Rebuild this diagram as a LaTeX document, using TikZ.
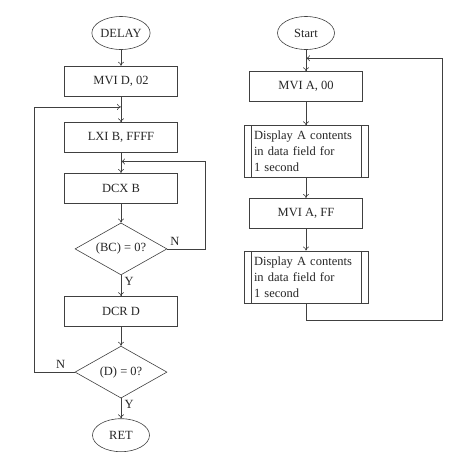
\documentclass[tikz,border=0pt]{standalone}
\usepackage{fontspec}
\setmainfont{Liberation Serif}
\usepackage{tikz}
\usetikzlibrary{arrows.meta,positioning,shapes.geometric}

\begin{document}
\begin{tikzpicture}[
				x=1pt, y=1pt, line width=0.6pt,
				font=\fontsize{12.5}{16}\selectfont,
				every node/.style={text=black!85},
				term/.style={ellipse, draw=black!75, inner sep=0pt,
					minimum width=57pt, minimum height=33pt},
				block/.style={rectangle, draw=black!75, align=center,
					minimum width=113pt, minimum height=30pt},
				decision/.style={diamond, draw=black!75, aspect=1.7, inner sep=1pt,
					minimum width=92pt, minimum height=52pt},
				predef/.style={rectangle, draw=black!75, align=left, inner sep=0pt,
					text width=104pt, minimum width=124pt, minimum height=52pt,
					path picture={
						\draw[black!75] ([xshift=7pt]path picture bounding box.north west)
							-- ([xshift=7pt]path picture bounding box.south west);
						\draw[black!75] ([xshift=-7pt]path picture bounding box.north east)
							-- ([xshift=-7pt]path picture bounding box.south east);
					}},
				arrow/.style={draw=black!75, -{To[length=4pt,width=6pt]}}
				]
				\useasboundingbox (0,0) rectangle (452,-458);
				
				% delay routine
				\node[term] (delay) at (121,-33) {DELAY};
				\node[block, below=16pt of delay] (mvid) {MVI D, 02};
				\node[block, below=26pt of mvid] (lxi) {LXI B, FFFF};
				\node[block, below=20pt of lxi] (dcx) {DCX B};
				\node[decision, below=19pt of dcx] (bc) {(BC) = 0?};
				\node[block, below=21pt of bc] (dcr) {DCR D};
				\node[decision, below=19pt of dcr] (dz) {(D) = 0?};
				\node[term, below=20pt of dz] (ret) {RET};
				\coordinate[below=10.5pt of mvid] (jn1);
				\coordinate[below=8.5pt of lxi] (jn2);
				
				\draw[arrow] (delay)--(mvid);
				\draw[arrow] (mvid)--(lxi);
				\draw[arrow] (lxi)--(dcx);
				\draw[arrow] (dcx)--(bc);
				\draw[arrow] (bc)-- node[right, pos=0.3] {Y} (dcr);
				\draw[arrow] (dcr)--(dz);
				\draw[arrow] (dz)-- node[right, pos=0.3] {Y} (ret);
				\draw[arrow] (bc.east)-- node[above, pos=0.2] {N} ++(38,0) |- (jn2);
				\draw[arrow] (dz.west)-- node[above, pos=0.35] {N} ++(-40,0) |- (jn1);
				
				% main program
				\node[term] (start) at (306,-33) {Start};
				\node[block, below=21.5pt of start] (mvia) {MVI A, 00};
				\node[predef, below=23.5pt of mvia] (disp1) {Display A contents\\in data field for\\1 second};
				\node[block, below=20pt of disp1] (mviff) {MVI A, FF};
				\node[predef, below=22pt of mviff] (disp2) {Display A contents\\in data field for\\1 second};
				\coordinate[below=8.5pt of start] (jn3);
				
				\draw[arrow] (start)--(mvia);
				\draw[arrow] (mvia)--(disp1);
				\draw[arrow] (disp1)--(mviff);
				\draw[arrow] (mviff)--(disp2);
				\draw[arrow] (disp2.south)-- ++(0,-17) -| ([xshift=136pt]jn3) -- (jn3);
		\end{tikzpicture}
\end{document}
